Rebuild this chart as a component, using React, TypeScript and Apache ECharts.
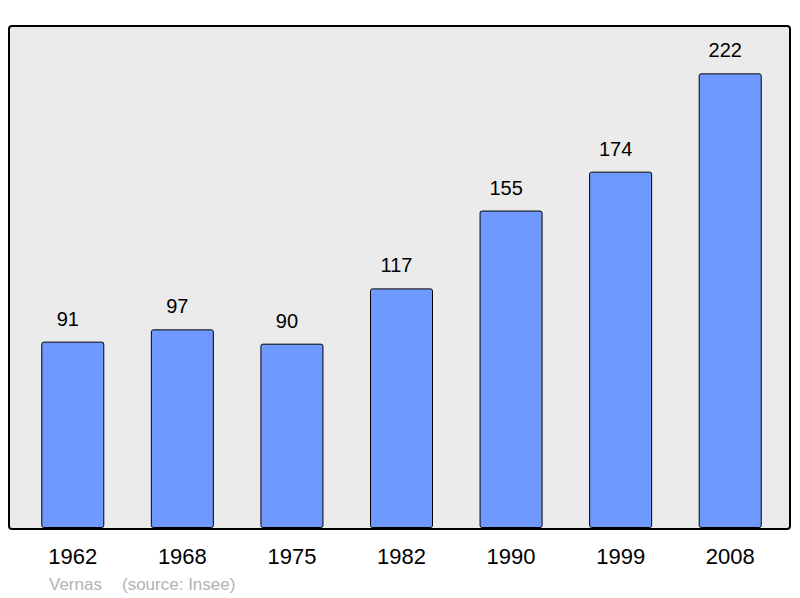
import React, { useEffect, useRef } from "react";
import * as echarts from "echarts";

const years = ["1962", "1968", "1975", "1982", "1990", "1999", "2008"];
const population = [91, 97, 90, 117, 155, 174, 222];
const commune = "Vernas";
const source = "(source: Insee)";

const FONT = "'Liberation Sans', Arial, sans-serif";

export default function App() {
  const ref = useRef<HTMLDivElement>(null);
  useEffect(() => {
    document.body.style.margin = "0";
    const chart = echarts.init(ref.current!, null, { renderer: "svg" });
    chart.setOption({
      animation: false,
      backgroundColor: "#ffffff",
      grid: { left: 18, right: 15, top: 16, bottom: 70, containLabel: false },
      xAxis: {
        type: "category",
        data: years,
        axisLine: { show: false },
        axisTick: { show: false },
        axisLabel: { color: "#000", fontSize: 22, fontFamily: FONT, margin: 17 },
      },
      yAxis: {
        type: "value",
        min: 0,
        max: 250,
        show: false,
        splitLine: { show: false },
      },
      graphic: [
        {
          type: "rect",
          z: -10,
          shape: { x: 9, y: 26, width: 781, height: 503, r: 3 },
          style: { fill: "#ebebeb", stroke: "none" },
        },
        {
          type: "rect",
          z: 100,
          shape: { x: 9, y: 26, width: 781, height: 503, r: 3 },
          style: { fill: "none", stroke: "#000", lineWidth: 2 },
        },
        {
          type: "text",
          x: 49,
          y: 584,
          style: { text: commune, fill: "#b3b3b3", fontSize: 17, fontFamily: FONT, verticalAlign: "middle" },
        },
        {
          type: "text",
          x: 122,
          y: 584,
          style: { text: source, fill: "#b3b3b3", fontSize: 17, fontFamily: FONT, verticalAlign: "middle" },
        },
      ],
      series: [
        {
          type: "bar",
          data: population,
          barWidth: 63,
          itemStyle: { color: "#7099ff", borderColor: "#000", borderWidth: 1, borderRadius: 2 },
          label: {
            show: true,
            position: "top",
            distance: 13,
            offset: [-5, 0],
            color: "#000",
            fontSize: 20,
            fontFamily: FONT,
          },
        },
      ],
    });
    return () => chart.dispose();
  }, []);
  return <div ref={ref} style={{ width: 800, height: 598 }} />;
}
